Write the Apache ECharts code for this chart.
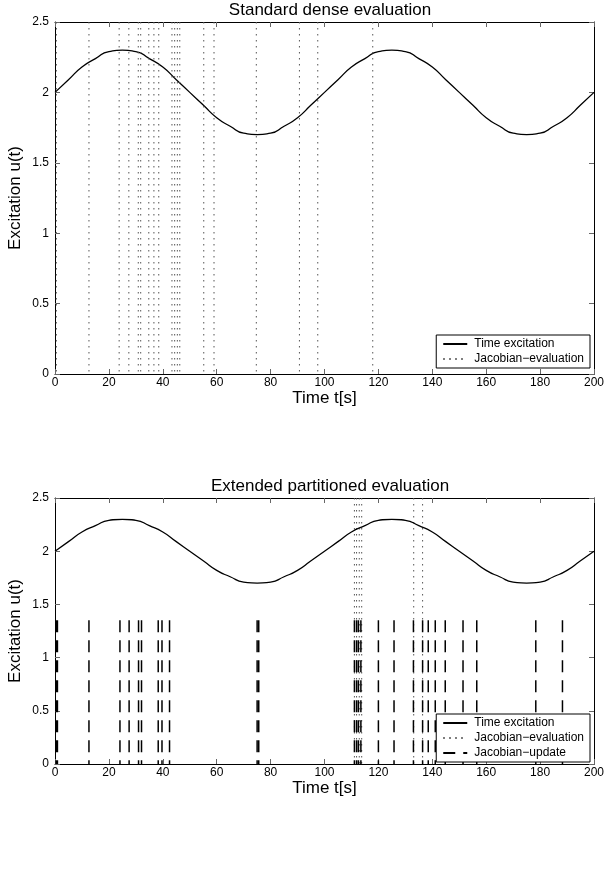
<!DOCTYPE html>
<html>
<head>
<meta charset="utf-8">
<script src="https://cdn.jsdelivr.net/npm/echarts@6/dist/echarts.min.js"></script>
<style>
  html, body { margin: 0; padding: 0; background: #fff; }
  #chart { width: 605px; height: 885px; }
</style>
</head>
<body>
<div id="chart"></div>
<script>
// time excitation, every 5 s
const tCurve = [0, 5, 10, 15, 20, 25, 30, 35, 40, 45, 50, 55, 60, 65, 70, 75, 80, 85, 90, 95, 100,
  105, 110, 115, 120, 125, 130, 135, 140, 145, 150, 155, 160, 165, 170, 175, 180, 185, 190, 195, 200]
const uCurve = [2.00, 2.09, 2.18, 2.24, 2.29, 2.30, 2.29, 2.24, 2.18, 2.09, 2.00, 1.91, 1.82, 1.76, 1.71, 1.70, 1.71, 1.76, 1.82, 1.91, 2.00,
  2.09, 2.18, 2.24, 2.29, 2.30, 2.29, 2.24, 2.18, 2.09, 2.00, 1.91, 1.82, 1.76, 1.71, 1.70, 1.71, 1.76, 1.82, 1.91, 2.00]

// times of jacobian evaluations (top plot)
const jacEvalDense = [0.5, 12.6, 23.8, 27.4, 30.9, 31.8, 34.8, 36.7, 38.5, 43.4, 44.4, 45.4, 46.3,
  55.2, 59.0, 74.7, 90.7, 97.5, 117.9]
// bottom plot: jacobian evaluations and updates
const jacEvalPart = [111.1, 111.9, 112.9, 113.8, 133.1, 136.4]
const jacUpdatePart = [0.4, 0.9, 12.6, 24.1, 27.5, 31.0, 32.1, 38.3, 39.7, 42.5, 75.0, 75.6,
  111.1, 111.9, 112.6, 113.5, 120.0, 125.8, 133.0, 136.4, 138.5, 141.1, 144.8, 151.4, 156.5, 178.4, 188.3]

const evalHeight = 2.5
const updateHeight = 1.35

// vertical segments drawn top-down, separated by empty points so the line breaks
function vlines(xs, y0, y1) {
  const d = []
  xs.forEach(x => {
    d.push([x, y1], [x, y0], [x, '-'])
  })
  return d
}

const font = 'Liberation Sans, Arial, sans-serif'
const curveData = tCurve.map((t, i) => [t, uCurve[i]])

function xAx(grid, bottom) {
  return {
    type: 'value', gridIndex: grid, min: 0, max: 200, interval: 20,
    position: bottom ? 'bottom' : 'top',
    name: bottom ? 'Time t[s]' : '',
    nameLocation: 'middle', nameGap: 15,
    nameTextStyle: { fontFamily: font, fontSize: 17, color: '#000' },
    axisLine: { show: true, onZero: false, lineStyle: { color: '#000', width: 1 } },
    axisTick: { show: true, inside: true, length: 5, lineStyle: { color: '#666' } },
    axisLabel: { show: bottom, margin: 3, fontFamily: font, fontSize: 12, color: '#000' },
    splitLine: { show: false }
  }
}
function yAx(grid, left) {
  return {
    type: 'value', gridIndex: grid, min: 0, max: 2.5, interval: 0.5,
    position: left ? 'left' : 'right',
    name: left ? 'Excitation u(t)' : '',
    nameLocation: 'middle', nameGap: 31, nameMoveOverlap: false,
    nameTextStyle: { fontFamily: font, fontSize: 17, color: '#000' },
    axisLine: { show: true, onZero: false, lineStyle: { color: '#000', width: 1 } },
    axisTick: { show: true, inside: true, length: 5, lineStyle: { color: '#666' } },
    axisLabel: { show: left, margin: 6, fontFamily: font, fontSize: 12, color: '#000' },
    splitLine: { show: false }
  }
}

const dotted = { color: '#555', width: 1, type: [1.5, 4.5] }
const dashed = { color: '#000', width: 1.5, type: [12, 8] }
const solid = { color: '#000', width: 1.3 }

function legendBox(names, top) {
  return {
    data: names, orient: 'vertical', right: 15, top: top,
    itemWidth: 24, itemHeight: 8, itemGap: 3, padding: [3, 6, 3, 6], align: 'left',
    borderColor: '#000', borderWidth: 1, backgroundColor: '#fff',
    itemStyle: { opacity: 0 },
    textStyle: { fontFamily: font, fontSize: 12, color: '#000', padding: [0, 0, 0, 2] }
  }
}

const option = {
  animation: false,
  backgroundColor: '#fff',
  title: [
    { text: 'Standard dense evaluation', left: 325, top: -3, textAlign: 'center',
      textStyle: { fontFamily: font, fontSize: 17, fontWeight: 'normal', color: '#000' } },
    { text: 'Extended partitioned evaluation', left: 325, top: 473, textAlign: 'center',
      textStyle: { fontFamily: font, fontSize: 17, fontWeight: 'normal', color: '#000' } }
  ],
  grid: [
    { left: 55, right: 11, top: 22, height: 352, outerBoundsMode: 'none' },
    { left: 55, right: 11, top: 498, height: 266, outerBoundsMode: 'none' }
  ],
  legend: [
    legendBox(['Time excitation', 'Jacobian−evaluation'], 335),
    legendBox(['Time excitation', 'Jacobian−evaluation', 'Jacobian−update'], 714)
  ],
  xAxis: [xAx(0, true), xAx(0, false), xAx(1, true), xAx(1, false)],
  yAxis: [yAx(0, true), yAx(0, false), yAx(1, true), yAx(1, false)],
  series: [
    { name: 'Time excitation', type: 'line', xAxisIndex: 0, yAxisIndex: 0, data: curveData,
      smooth: 0.6, symbol: 'none', lineStyle: solid, itemStyle: { color: '#000' } },
    { name: 'Jacobian−evaluation', type: 'line', xAxisIndex: 0, yAxisIndex: 0,
      data: vlines(jacEvalDense, 0, evalHeight), symbol: 'none', lineStyle: dotted, itemStyle: { color: '#555' } },
    { name: 'Jacobian−evaluation', type: 'line', xAxisIndex: 2, yAxisIndex: 2,
      data: vlines(jacEvalPart, 0, evalHeight), symbol: 'none', lineStyle: dotted, itemStyle: { color: '#555' } },
    { name: 'Jacobian−update', type: 'line', xAxisIndex: 2, yAxisIndex: 2,
      data: vlines(jacUpdatePart, 0, updateHeight), symbol: 'none', lineStyle: dashed, itemStyle: { color: '#000' } },
    { name: 'Time excitation', type: 'line', xAxisIndex: 2, yAxisIndex: 2, data: curveData,
      smooth: 0.6, symbol: 'none', lineStyle: solid, itemStyle: { color: '#000' } }
  ]
}

const chart = echarts.init(document.getElementById('chart'), null, { renderer: 'canvas' })
chart.setOption(option)
</script>
</body>
</html>
